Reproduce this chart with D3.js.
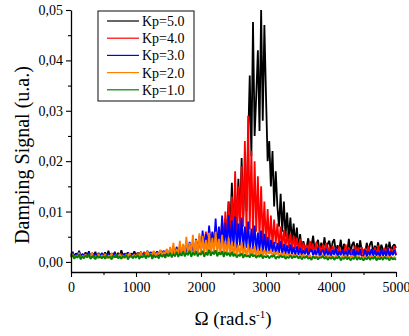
<!DOCTYPE html>
<html>
<head>
<meta charset="utf-8">
<script src="https://cdn.jsdelivr.net/npm/d3@7"></script>
<style>
  html, body { margin: 0; padding: 0; background: #fff; }
  svg { display: block; }
  text { font-family: "Liberation Serif", "Times New Roman", serif; fill: #000; }
</style>
</head>
<body>
<svg id="chart" width="409" height="336"></svg>
<script>
// Sample grid of the spectrum: Ω from 0 to 5000 rad/s, every 25 rad/s (201 samples)
const omega = d3.range(0, 5001, 25);
// Signal values, in units of 1e-4 (u.a.)
const UNIT = 1e-4;
const kp5 = [
  14,20,10,17,12,22,9,16,13,19,11,21,10,17,14,20,9,18,12,16,
  13,19,10,22,12,17,14,20,9,18,11,23,12,16,13,19,10,17,14,21,
  12,18,14,20,11,19,13,22,12,17,15,21,13,19,14,23,12,20,16,24,
  15,22,17,26,16,24,19,28,17,27,21,32,19,30,24,36,22,38,26,42,
  28,48,35,41,30,58,38,46,33,64,42,55,36,72,48,85,58,120,66,157,
  60,140,70,165,80,206,90,180,100,240,370,210,476,250,330,420,260,500,280,470,
  330,200,240,150,220,110,180,110,70,135,60,120,50,98,45,88,40,76,35,68,
  25,55,22,41,28,30,47,20,32,52,22,35,44,20,38,24,49,21,36,42,
  20,39,45,18,33,22,44,18,36,24,20,46,19,34,40,17,37,22,43,20,
  24,18,38,21,35,41,18,32,22,39,19,34,24,17,36,21,40,20,31,35,28
];
const kp4 = [
  10,16,8,14,12,19,7,13,11,17,9,15,12,18,8,14,10,16,9,13,
  11,17,8,15,10,14,12,18,9,13,11,16,8,15,12,17,10,14,9,16,
  12,18,10,15,13,20,11,17,12,19,10,16,14,21,12,18,15,22,13,19,
  16,24,18,27,15,25,20,30,18,28,22,34,20,32,26,38,24,42,28,46,
  22,52,25,60,24,66,28,58,26,70,30,64,32,85,36,100,40,120,38,130,
  42,180,60,150,48,190,70,240,55,290,65,220,50,200,60,170,45,150,40,120,
  35,105,32,92,30,84,36,76,28,70,30,63,26,58,28,55,24,51,26,48,
  20,46,18,38,22,34,16,42,20,36,15,40,18,33,14,35,17,38,15,31,
  13,33,16,28,12,31,15,24,13,35,12,28,14,25,11,32,15,29,13,30,
  12,27,14,31,11,25,15,29,12,33,13,24,11,28,14,30,12,26,13,32,14
];
const kp3 = [
  12,18,9,15,11,20,8,14,13,17,10,19,9,15,12,16,8,14,11,18,
  10,15,13,17,9,14,12,18,10,16,8,14,11,17,13,19,10,15,12,16,
  11,17,14,19,12,16,10,18,13,20,11,17,15,21,12,19,14,22,13,20,
  12,26,14,22,11,30,15,25,13,34,16,28,14,40,18,33,16,46,20,52,
  22,62,26,55,30,72,24,60,28,86,26,70,30,92,25,78,32,93,28,82,
  30,90,26,76,32,88,24,70,28,80,22,66,25,72,20,58,22,62,18,56,
  18,50,16,44,20,40,15,38,18,42,14,36,16,33,13,35,15,30,12,31,
  14,28,12,24,15,27,11,22,25,13,23,14,28,11,21,24,12,26,13,22,
  11,23,14,27,10,21,13,25,12,22,10,24,15,12,26,11,22,13,25,10,
  12,24,10,21,14,26,11,23,13,20,10,25,12,22,11,27,10,21,14,23,13
];
const kp2 = [
  10,16,7,13,9,18,6,12,10,15,8,14,11,17,7,12,9,16,8,13,
  11,15,7,13,10,17,8,12,14,9,16,10,13,7,15,11,18,9,12,14,
  10,16,12,19,9,15,13,21,11,17,14,22,12,18,15,24,13,20,16,26,
  10,30,12,38,11,26,14,42,12,36,15,50,13,38,16,54,14,44,17,57,
  15,52,18,44,14,58,17,48,15,60,18,46,14,54,16,42,13,48,15,40,
  12,38,14,34,11,40,13,31,10,35,12,29,10,32,11,26,9,28,10,24,
  14,22,16,24,12,20,15,21,11,18,13,19,10,17,12,16,9,15,11,14,
  9,14,11,15,8,13,10,14,7,12,9,13,8,11,10,14,7,12,9,13,
  8,12,7,13,9,11,6,12,8,14,7,10,9,13,6,11,8,12,7,10,
  8,12,6,11,9,13,7,10,8,12,6,11,9,10,7,12,8,11,6,10,7
];
const kp1 = [
  9,14,6,12,8,15,5,11,7,13,9,16,6,10,12,5,13,8,11,7,
  12,6,14,8,10,5,13,9,15,7,11,6,12,9,14,5,10,13,7,12,
  8,14,6,11,9,15,7,12,10,16,6,13,9,12,7,15,10,14,8,16,
  11,18,9,15,12,20,10,17,12,21,11,18,14,22,10,19,13,21,11,18,
  14,22,10,19,13,24,12,20,15,23,11,19,14,21,10,20,13,18,11,20,
  11,16,9,14,12,17,8,15,10,13,9,16,11,14,8,13,10,15,7,12,
  9,13,7,12,10,14,6,11,8,13,9,12,6,10,8,13,7,11,9,12,
  7,11,5,10,8,12,6,9,4,11,7,10,5,9,8,12,6,10,4,9,
  6,10,4,9,7,11,3,8,6,10,5,9,3,8,6,11,4,9,5,8,
  3,8,5,10,4,9,6,11,3,8,5,9,4,10,6,8,3,9,5,7,4
];
const seriesNames = ["Kp=5.0", "Kp=4.0", "Kp=3.0", "Kp=2.0", "Kp=1.0"];
const seriesColors = ["#000000", "#ff0000", "#0000ff", "#ff8000", "#008000"];
const seriesData = [kp5, kp4, kp3, kp2, kp1];
const xTicks = [0, 1000, 2000, 3000, 4000, 5000];
const xMinor = [500, 1500, 2500, 3500, 4500];
const yTicks = [0, 0.01, 0.02, 0.03, 0.04, 0.05];
const yMinor = [0.005, 0.015, 0.025, 0.035, 0.045];

const FONT = '"Liberation Serif", "Times New Roman", serif';
const svg = d3.select("#chart");
const L = 71, R = 396, T = 10, B = 272;
const x = d3.scaleLinear().domain([0, 5000]).range([L, R]);
const y = d3.scaleLinear().domain([-0.002, 0.05]).range([B, T]);

// series
const line = d3.line().x((d, i) => x(omega[i])).y(d => y(d * UNIT));
const gS = svg.append("g");
seriesData.forEach((s, k) => {
  gS.append("path").datum(s).attr("d", line)
    .attr("fill", "none").attr("stroke", seriesColors[k])
    .attr("stroke-width", 1.8).attr("stroke-linejoin", "bevel");
});

// axes
const fmtY = v => d3.format(".2f")(v).replace(".", ",");
svg.append("g").attr("transform", `translate(0,${B})`)
  .call(d3.axisBottom(x).tickValues(xTicks).tickSize(5).tickSizeOuter(0).tickPadding(5).tickFormat(d3.format("d")));
svg.append("g").attr("transform", `translate(0,${B})`)
  .call(d3.axisBottom(x).tickValues(xMinor).tickSize(3).tickSizeOuter(0).tickFormat(""))
  .select(".domain").remove();
svg.append("g").attr("transform", `translate(${L},0)`)
  .call(d3.axisLeft(y).tickValues(yTicks).tickSize(5).tickSizeOuter(0).tickPadding(3).tickFormat(fmtY));
svg.append("g").attr("transform", `translate(${L},0)`)
  .call(d3.axisLeft(y).tickValues(yMinor).tickSize(3).tickSizeOuter(0).tickFormat(""))
  .select(".domain").remove();
svg.selectAll(".domain").attr("stroke", "#000").attr("stroke-width", 1.3);
svg.selectAll(".tick line").attr("stroke", "#000").attr("stroke-width", 1.1);
svg.selectAll(".tick text").attr("font-family", FONT).style("font-family", FONT)
  .style("font-size", "14px").attr("fill", "#000");

// axis titles
svg.append("text").attr("transform", "translate(29,155) rotate(-90)")
  .attr("text-anchor", "middle").style("font-family", FONT).style("font-size", "20px")
  .text("Damping Signal (u.a.)");
const xt = svg.append("text").attr("x", 233).attr("y", 325)
  .attr("text-anchor", "middle").style("font-family", FONT).style("font-size", "19px");
xt.append("tspan").text("Ω (rad.s");
xt.append("tspan").attr("dy", -7).style("font-size", "11px").text("-1");
xt.append("tspan").attr("dy", 7).text(")");

// legend
const lg = svg.append("g");
lg.append("rect").attr("x", 98).attr("y", 11).attr("width", 96).attr("height", 90)
  .attr("fill", "#fff").attr("stroke", "#333").attr("stroke-width", 1.2);
seriesNames.forEach((n, i) => {
  const yy = 21 + i * 17.2;
  lg.append("line").attr("x1", 107).attr("x2", 139).attr("y1", yy).attr("y2", yy)
    .attr("stroke", seriesColors[i]).attr("stroke-width", 1.2);
  lg.append("text").attr("x", 142).attr("y", yy + 5)
    .style("font-family", FONT).style("font-size", "14px").text(n);
});
</script>
</body>
</html>
